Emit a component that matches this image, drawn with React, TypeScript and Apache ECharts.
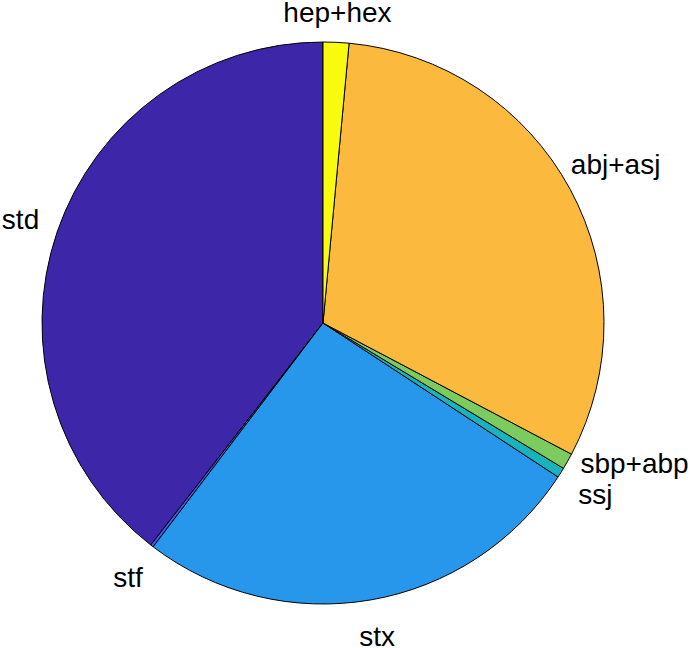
import React, { useEffect, useRef } from 'react';
import * as echarts from 'echarts';

// Data (counter-clockwise from 12 o'clock, as MATLAB's pie draws them)
const categories = ['std', 'stf', 'stx', 'ssj', 'sbp+abp', 'abj+asj', 'hep+hex'];
const values = [39.5, 0.17, 26.1, 0.58, 0.92, 31.25, 1.48];
const colors = ['#3E26A8', '#4358F0', '#2797EB', '#17B4BF', '#7CCB5E', '#FBBA3D', '#F9FB0E'];

const W = 692;
const H = 648;
const CX = 323;
const CY = 323;
const R = 281;
const FONT_SIZE = 28;
const FONT_FAMILY = '"Liberation Sans", Arial, Helvetica, sans-serif';

type P = { x: number; y: number };

function computeLabelPositions(): P[] {
  const total = values.reduce((a, b) => a + b, 0);
  const canvas = document.createElement('canvas');
  const ctx = canvas.getContext('2d') as CanvasRenderingContext2D;
  ctx.font = `${FONT_SIZE}px ${FONT_FAMILY}`;
  const placed: { x: number; y: number; w: number; h: number }[] = [];
  let acc = 0;
  return categories.map((name, i) => {
    const start = acc;
    acc += values[i];
    let a = ((start + values[i] / 2) / total) * 360; // ccw degrees from top
    const w = ctx.measureText(name).width;
    const h = FONT_SIZE + 2;
    const pos = (ang: number): P => {
      const rad = (ang * Math.PI) / 180;
      const ux = -Math.sin(rad);
      const uy = -Math.cos(rad);
      const d = 1.1 * R + 0.3 * Math.abs(ux) * w + (uy > 0 ? 0.25 * uy * h : 0);
      return { x: CX + ux * d, y: CY + uy * d };
    };
    let p = pos(a);
    const overlaps = (q: P) =>
      placed.some(
        (b) => Math.abs(b.x - q.x) < (b.w + w) / 2 && Math.abs(b.y - q.y) < (b.h + h) / 2
      );
    let guard = 0;
    while (overlaps(p) && guard < 600) {
      a += 0.2;
      p = pos(a);
      guard++;
    }
    placed.push({ x: p.x, y: p.y, w, h });
    return p;
  });
}

export default function App() {
  const ref = useRef<HTMLDivElement>(null);
  useEffect(() => {
    if (!ref.current) return;
    const chart = echarts.init(ref.current, undefined, { renderer: 'svg' });
    const labelPos = computeLabelPositions();
    chart.setOption({
      animation: false,
      backgroundColor: '#ffffff',
      series: [
        {
          type: 'pie',
          center: [CX, CY],
          radius: R,
          startAngle: 90,
          clockwise: false,
          avoidLabelOverlap: false,
          silent: true,
          data: categories.map((name, i) => ({
            name,
            value: values[i],
            itemStyle: { color: colors[i] },
          })),
          itemStyle: { borderColor: '#000000', borderWidth: 1 },
          label: {
            show: true,
            position: 'inside',
            formatter: '{b}',
            color: '#000000',
            fontSize: FONT_SIZE,
            lineHeight: 22,
            fontFamily: FONT_FAMILY,
          },
          labelLine: { show: false },
          labelLayout: (params: any) => {
            const p = labelPos[params.dataIndex];
            return { x: p.x, y: p.y, align: 'center', verticalAlign: 'middle' };
          },
          emphasis: { disabled: true },
        },
      ],
    });
    return () => chart.dispose();
  }, []);
  return (
    <div
      ref={ref}
      style={{ position: 'fixed', left: 0, top: 0, width: W, height: H, background: '#fff' }}
    />
  );
}
